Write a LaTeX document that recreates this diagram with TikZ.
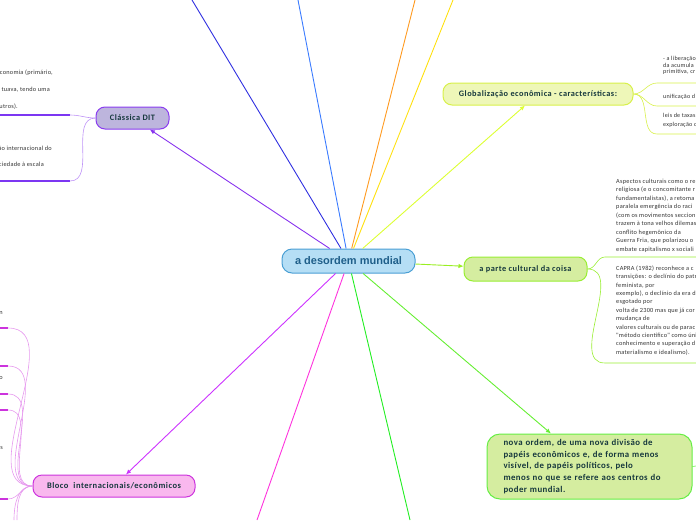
\documentclass[tikz,border=0pt]{standalone}
\usepackage{fontspec}
\setmainfont{Carlito}
\newfontfamily\arialb{Liberation Sans}
\newfontfamily\lblf[LetterSpace=6]{Carlito}
\newfontfamily\botf[LetterSpace=5]{Carlito}
\newfontfamily\smf[LetterSpace=4]{Carlito}
\usetikzlibrary{arrows.meta}
\definecolor{cfill}{HTML}{B5DEF5}
\definecolor{cdraw}{HTML}{4A9FD4}
\definecolor{ctext}{HTML}{1F5F8A}
\definecolor{ntext}{HTML}{16383D}
\definecolor{clfill}{HTML}{BDB5DD}
\definecolor{cldraw}{HTML}{8A3CF0}
\definecolor{gfill}{HTML}{EEF7B8}
\definecolor{gdraw}{HTML}{D8F04A}
\definecolor{cufill}{HTML}{D5EDA0}
\definecolor{cudraw}{HTML}{99EE33}
\definecolor{bdraw}{HTML}{66EE44}
\definecolor{blfill}{HTML}{F9B8EE}
\definecolor{bldraw}{HTML}{CC33DD}
\definecolor{cviolet}{HTML}{8833EE}
\definecolor{cdblue}{HTML}{3030E0}
\definecolor{clblue}{HTML}{3A7BFF}
\definecolor{corange}{HTML}{FF9A20}
\definecolor{cyellow}{HTML}{FFE010}
\definecolor{cygreen}{HTML}{DDFF33}
\definecolor{ccult}{HTML}{99EE22}
\definecolor{cbot}{HTML}{66EE33}
\definecolor{cgreen}{HTML}{22EE22}
\definecolor{cmag}{HTML}{FF33DD}
\definecolor{cpurp}{HTML}{CC33FF}
\definecolor{smalltext}{HTML}{333333}
\begin{document}
\begin{tikzpicture}[x=1pt,y=-1pt,
  mainbox/.style={draw=cdraw,fill=cfill,rounded corners=10pt,line width=1pt,
    minimum width=133pt,minimum height=24pt,inner sep=0pt,
    font=\arialb\bfseries\fontsize{11}{13}\selectfont,text=ctext},
  topicbox/.style={rounded corners=9pt,line width=1pt,inner sep=0pt,
    font=\lblf\bfseries\fontsize{8.3}{10}\selectfont,text=ntext},
  conn/.style={line width=0.9pt},
  arr/.style={conn,-{Latex[length=5pt,width=4.5pt]}},
  smalltxt/.style={font=\smf\fontsize{6.3}{8.5}\selectfont,text=smalltext,inner sep=0pt,align=left},
  brline/.style={line width=1.1pt},
  brcurve/.style={line width=0.6pt}
]
\useasboundingbox (0,0) rectangle (696,520);
\clip (0,0) rectangle (696,520);

% nodes
\node[mainbox] (c) at (348.5,261) {a desordem mundial};
\node[topicbox,draw=cldraw,fill=clfill,minimum width=73pt,minimum height=22pt] (cl) at (132.5,118) {Clássica DIT};
\node[topicbox,draw=gdraw,fill=gfill,minimum width=190pt,minimum height=22pt] (g) at (538,94) {Globalização econômica - características:};
\node[topicbox,draw=cudraw,fill=cufill,minimum width=123pt,minimum height=24pt] (cu) at (525.5,269) {a parte cultural da coisa};
\node[topicbox,draw=bdraw,fill=cufill,rounded corners=13pt,minimum width=205pt,minimum height=65pt,
  text width=172pt,inner xsep=16.5pt,align=left,font=\botf\bfseries\fontsize{8.8}{11.7}\selectfont] (b) at (589.5,466.5)
  {nova ordem, de uma nova divisão de\\papéis econômicos e, de forma menos\\visível, de papéis políticos, pelo\\menos no que se refere aos centros do\\poder mundial.};
\node[topicbox,draw=bldraw,fill=blfill,minimum width=162pt,minimum height=22pt,font=\lblf\bfseries\fontsize{8.5}{10}\selectfont] (bl) at (114,486) {Bloco\ \ internacionais/econômicos};

% free ends of connectors leaving the picture
\coordinate (e1) at (192,0);
\coordinate (e2) at (298,0);
\coordinate (e3) at (415,0);
\coordinate (e4) at (453,0);
\coordinate (e5) at (257,520);
\coordinate (e6) at (410,520);

% connectors from centre
\draw[conn,cdblue] (c) -- (e1);
\draw[conn,clblue] (c) -- (e2);
\draw[conn,corange] (c) -- (e3);
\draw[conn,cyellow] (c) -- (e4);
\draw[conn,cmag] (c) -- (e5);
\draw[conn,cgreen] (c) -- (e6);
\draw[arr,cviolet] (c) -- (cl);
\draw[arr,cygreen] (c) -- (g);
\draw[arr,ccult] (c) -- (cu);
\draw[arr,cbot] (c) -- (b);
\draw[arr,cpurp] (c) -- (bl);

% Clássica DIT branches
\coordinate (cla) at (70,115);
\coordinate (clb) at (70,181);
\draw[brline,color=cldraw!90!blue] (0,115) -- (cla);
\draw[brline,color=cldraw!90!blue] (0,181) -- (clb);
\draw[brcurve,color=cldraw!55] (cla) to[out=0,in=180] (cl.west);
\draw[brcurve,color=cldraw!55] (clb) to[out=0,in=180] (cl.west);
\node[smalltxt,anchor=east] at (53,73) {economia (primário,};
\node[smalltxt,anchor=east] at (50,90) {tuava, tendo uma};
\node[smalltxt,anchor=east] at (18,107) {utros).};
\node[smalltxt,anchor=east] at (52,148) {ão internacional do};
\node[smalltxt,anchor=east] at (44,164) {ciedade à escala};

% Globalização branches
\coordinate (ga) at (657,83);
\coordinate (gb) at (657,106);
\coordinate (gc) at (657,134);
\draw[brcurve,color=gdraw] (g.east) to[out=0,in=180] (ga) -- (696,83);
\draw[brcurve,color=gdraw] (g.east) to[out=0,in=180] (gb) -- (696,106);
\draw[brcurve,color=gdraw] (g.east) to[out=0,in=180] (gc) -- (696,134);
\node[smalltxt,anchor=north west,font=\smf\fontsize{6.1}{6.2}\selectfont] at (663,56.5) {- a liberação\\da acumula\\primitiva, cr};
\node[smalltxt,anchor=west,font=\smf\fontsize{6.1}{6.2}\selectfont] at (663,96.5) {unificação d};
\node[smalltxt,anchor=north west,font=\smf\fontsize{6.1}{8.2}\selectfont] at (663,113.5) {leis de taxas\\exploração d};

% cultural branches
\coordinate (cua) at (605,257);
\coordinate (cub) at (605,363);
\draw[brcurve,color=cudraw] (cu.east) to[out=0,in=180] (cua) -- (696,257);
\draw[brcurve,color=cudraw] (cu.east) to[out=0,in=180] (cub) -- (696,363);
\node[smalltxt,anchor=north west] at (616,178.5) {Aspectos culturais como o re\\religiosa (e o concomitante r\\fundamentalistas), a retoma\\paralela emergência do raci\\(com os movimentos seccion\\trazem à tona velhos dilemas\\conflito hegemônico da\\Guerra Fria, que polarizou o\\embate capitalismo x sociali};
\node[smalltxt,anchor=north west,font=\smf\fontsize{6.3}{8.4}\selectfont] at (616,265.5) {CAPRA (1982) reconhece a c\\transições: o declínio do patr\\feminista, por\\exemplo), o declínio da era d\\esgotado por\\volta de 2300 mas que já cor\\mudança de\\valores culturais ou de parac\\"método científico" como úni\\conhecimento e superação d\\materialismo e idealismo).};

% bottom node stub
\coordinate (bs) at (696,466);
\draw[brcurve,color=bdraw] (b.east) -- (bs);

% Bloco branches
\foreach \yy/\nm in {328/p1,366/p2,394/p3,410/p4,499/p5}{
  \coordinate (\nm) at (8,\yy);
  \draw[brline,color=bldraw] (0,\yy) -- (\nm);
  \draw[brcurve,color=bldraw!50] (\nm) to[out=0,in=180] (bl.west);
}
\coordinate (q1) at (14,520);
\coordinate (q2) at (17,520);
\draw[brcurve,color=bldraw!50] (bl.west) to[out=180,in=90] (q1);
\draw[brcurve,color=bldraw!50] (bl.west) to[out=180,in=90] (q2);
\node[smalltxt,anchor=east] at (3,313) {n};
\node[smalltxt,anchor=east] at (3,378) {o};
\node[smalltxt,anchor=east] at (3,448) {s};
\end{tikzpicture}
\end{document}
